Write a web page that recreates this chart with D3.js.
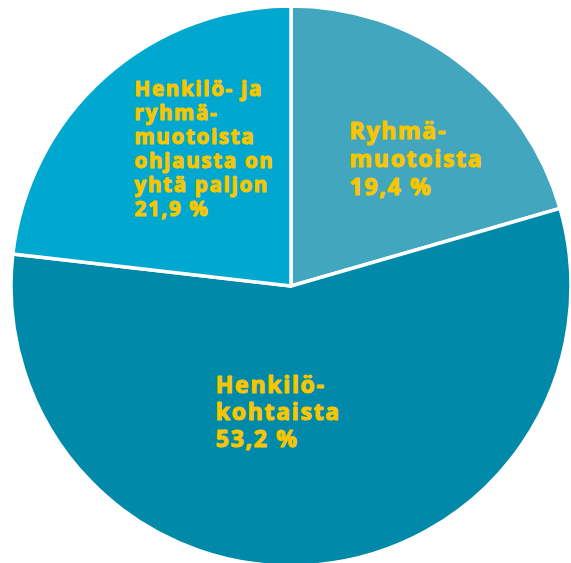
<!DOCTYPE html>
<html>
<head>
<meta charset="utf-8">
<script src="https://cdn.jsdelivr.net/npm/d3@7"></script>
<style>
  html, body { margin: 0; padding: 0; background: #ffffff; }
  svg { display: block; }
  .label {
    font-family: "Open Sans", "Noto Sans", sans-serif; font-weight: 700;
    fill: #f7c600; stroke: #f7c600; stroke-width: 1.1px; stroke-linejoin: round;
    letter-spacing: 1.7px;
  }
</style>
</head>
<body>
<svg id="chart" width="571" height="563"></svg>
<script>
// Ohjauksen muoto – osuudet (%)
const categories = ["Ryhmämuotoista", "Henkilökohtaista", "Henkilö- ja ryhmämuotoista ohjausta on yhtä paljon"];
const values = [19.4, 53.2, 21.9];
const labelLines = [
  ["Ryhmä-", "muotoista", "19,4 %"],
  ["Henkilö-", "kohtaista", "53,2 %"],
  ["Henkilö- ja", "ryhmä-", "muotoista", "ohjausta on", "yhtä paljon", "21,9 %"]
];
const colors = ["#42a6bf", "#0089a9", "#00a8cf"];

// Layout
const width = 571, height = 563;
const cx = 291, cy = 286, radius = 280;
// label block: offset from slice centroid (left edge, first baseline), line spacing, font size
const labelLayout = [
  { dx: -34, dy: -24, lh: 28, size: 23 },
  { dx: -88, dy: -46, lh: 27, size: 23 },
  { dx: -54, dy: -75, lh: 24, size: 20.5 }
];

const svg = d3.select("#chart");
const g = svg.append("g").attr("transform", `translate(${cx},${cy})`);

const data = categories.map((c, i) => ({ category: c, value: values[i], lines: labelLines[i], color: colors[i], layout: labelLayout[i] }));

const pie = d3.pie().sort(null).value(d => d.value);
const arc = d3.arc().innerRadius(0).outerRadius(radius);
const labelArc = d3.arc().innerRadius(radius * 0.55).outerRadius(radius * 0.55);

const arcs = pie(data);

g.selectAll("path.slice")
  .data(arcs)
  .join("path")
  .attr("class", "slice")
  .attr("d", arc)
  .attr("fill", d => d.data.color)
  .attr("stroke", "#ffffff")
  .attr("stroke-width", 3.5)
  .attr("stroke-linejoin", "round");

g.selectAll("text.label")
  .data(arcs)
  .join("text")
  .attr("class", "label")
  .attr("text-anchor", "start")
  .style("font-size", d => d.data.layout.size + "px")
  .each(function (d) {
    const [x, y] = labelArc.centroid(d);
    const L = d.data.layout;
    const t = d3.select(this);
    d.data.lines.forEach((line, i) => {
      t.append("tspan")
        .attr("x", x + L.dx)
        .attr("y", y + L.dy + i * L.lh)
        .text(line);
    });
  });
</script>
</body>
</html>
